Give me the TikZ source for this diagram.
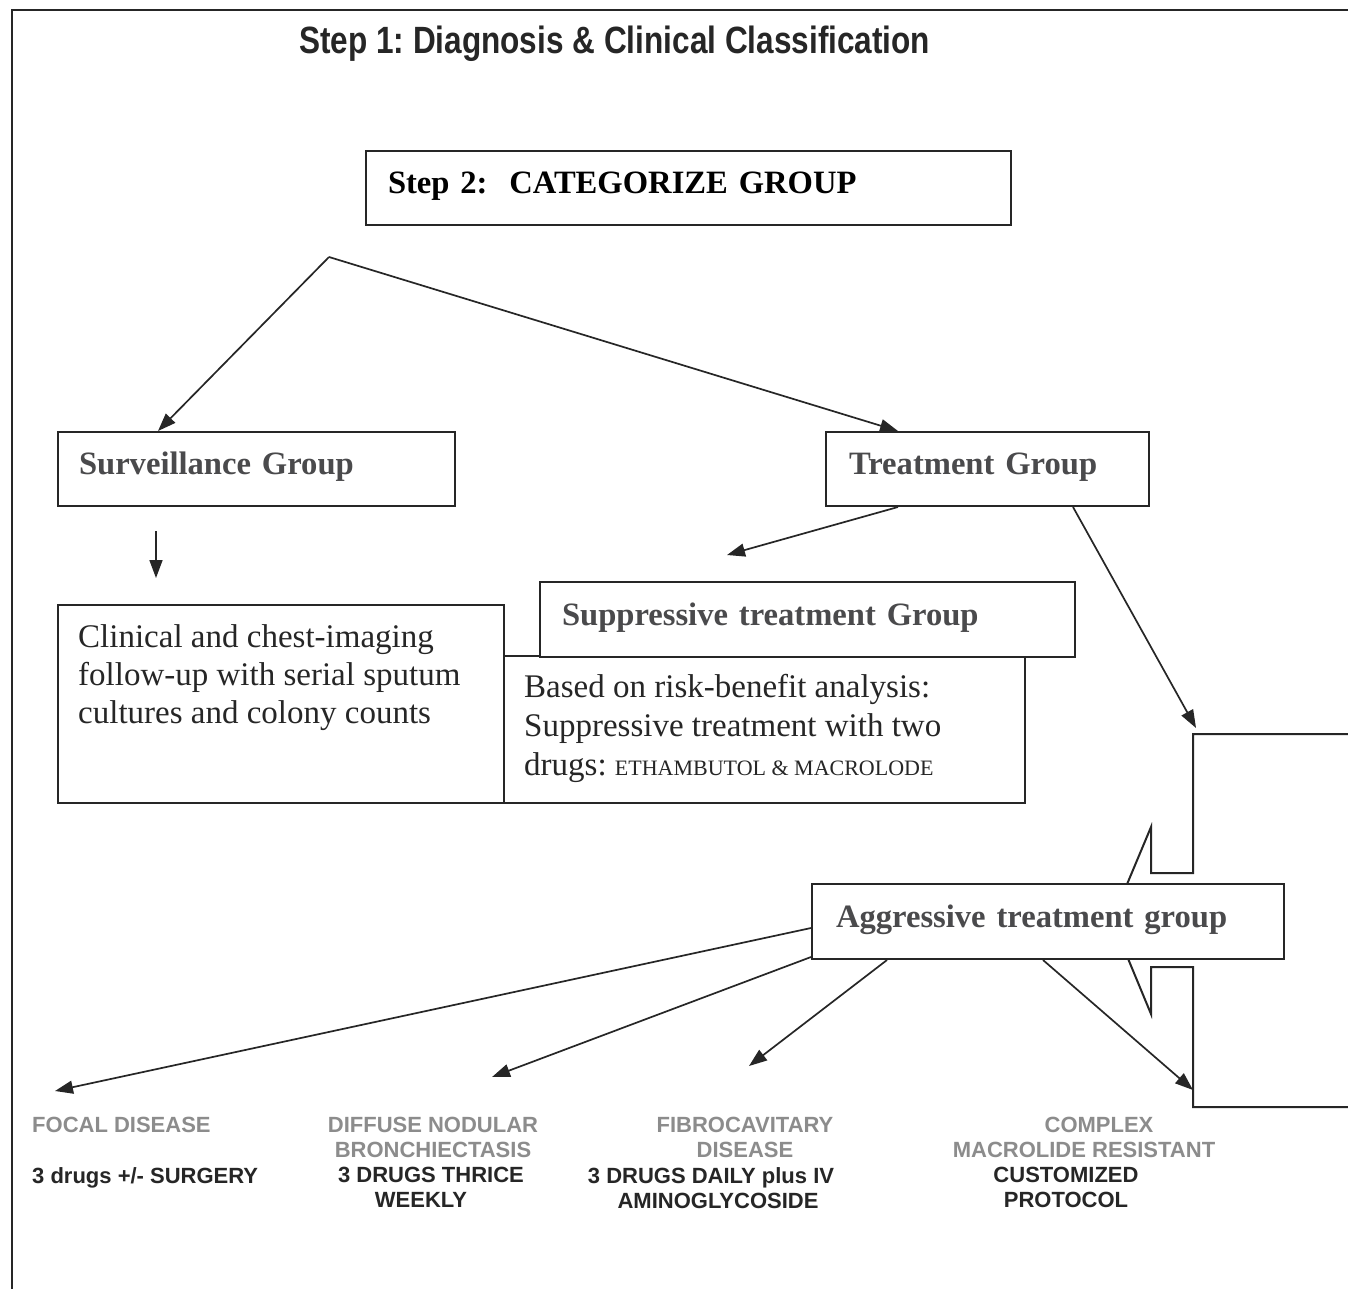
\documentclass[tikz,border=0pt]{standalone}
\usepackage{fontspec}
\setmainfont{Liberation Serif}
\newfontfamily\arialf{Liberation Sans}
\usepackage{graphicx}
\usetikzlibrary{arrows.meta,calc}
\frenchspacing
\definecolor{ink}{HTML}{262626}
\definecolor{boxtxt}{HTML}{4A4A4C}
\definecolor{graytxt}{HTML}{8C8C8C}
\tikzset{
  boxn/.style={draw=ink, line width=2pt, fill=white, anchor=north west, inner ysep=0pt, align=left},
  head/.style={font=\fontsize{32.6}{38}\selectfont\bfseries, text=boxtxt, text height=22pt, text depth=11pt},
  arr/.style={draw=ink, line width=1.7pt, -{Triangle[length=18pt,width=13pt]}},
  body/.style={text=ink, inner sep=0pt, align=left},
  lab/.style={font=\arialf\bfseries\fontsize{22}{25}\selectfont, inner sep=0pt, align=center},
}
\begin{document}
\begin{tikzpicture}[x=1pt,y=-1pt]
\useasboundingbox (0,0) rectangle (1348,1288);
\clip (0,0) rectangle (1348,1288);
\fill[white] (0,0) rectangle (1348,1288);
% outer frame (only top and left visible)
\draw[ink, line width=2.5pt] (12,1300) -- (12,10) -- (1360,10);

% title
\node[anchor=base west, inner sep=0pt, text=ink] (title) at (299,53)
  {\scalebox{0.83}[1]{\arialf\bfseries\fontsize{38}{40}\selectfont Step 1: Diagnosis \& Clinical Classification}};

% step 2
\node[boxn, head, text=black, inner xsep=22pt, text width=601pt, minimum height=74pt] (step2) at (365,150)
  {Step 2:\ \ CATEGORIZE GROUP};

% groups
\node[boxn, head, inner xsep=21pt, text width=355pt, minimum height=74pt] (surv) at (57,431) {Surveillance Group};
\node[boxn, head, inner xsep=23pt, text width=277pt, minimum height=74pt] (treat) at (825,431) {Treatment Group};

% clinical follow-up box
\node[boxn, minimum width=446pt, minimum height=198pt, inner sep=0pt] (clin) at (57,604) {};
\node[body, anchor=north west, font=\fontsize{33}{38}\selectfont] (clintext) at (78,624)
  {Clinical and chest-imaging\\follow-up with serial sputum\\cultures and colony counts};

% suppressive description box
\node[boxn, minimum width=521pt, minimum height=147pt, inner sep=0pt] (desc) at (503,655) {};
\node[body, anchor=north west, font=\fontsize{33}{39}\selectfont] (desctext) at (524,674)
  {Based on risk-benefit analysis:\\Suppressive treatment with two\\drugs: {\fontsize{22}{39}\selectfont ETHAMBUTOL \& MACROLODE}};

% suppressive group
\node[boxn, head, inner xsep=22pt, text width=491pt, minimum height=75pt] (supp) at (539,581) {Suppressive treatment Group};

% block arrow pointing left
\draw[ink, line width=2pt, fill=white, line join=miter]
  (1360,734) -- (1193,734) -- (1193,873) -- (1151,873) -- (1151,827) -- (1112,920)
  -- (1151,1014) -- (1151,967) -- (1193,967) -- (1193,1107) -- (1360,1107);

% aggressive group
\node[boxn, head, inner xsep=24pt, text width=424pt, minimum height=75pt] (aggr) at (811,883) {Aggressive treatment group};

% free coordinates
\coordinate (apex) at (329,257);
\coordinate (suppin) at (727,555);
\coordinate (blocktop) at (1196,728);
\coordinate (focalend) at (55,1091);
\coordinate (diffend) at (492,1077);
\coordinate (fibroend) at (749,1066);
\coordinate (complexend) at (1193,1090);

% connectors
\draw[arr] (apex) -- ($(surv.north west)+(101,0)$);
\draw[arr] (apex) -- ($(treat.north west)+(73,0)$);
\draw[arr] ($(surv.south west)+(99,24)$) -- ($(clin.north west)+(99,-26)$);
\draw[arr] ($(treat.south west)+(73,0)$) -- (suppin);
\draw[arr] ($(treat.south west)+(248,0)$) -- (blocktop);
\draw[arr] ($(aggr.north west)+(0,45)$) -- (focalend);
\draw[arr] ($(aggr.south west)+(0,-3)$) -- (diffend);
\draw[arr] ($(aggr.south west)+(76,0)$) -- (fibroend);
\draw[arr] ($(aggr.south west)+(232,0)$) -- (complexend);

% bottom labels
\node[lab, anchor=north west, text=graytxt] (focal) at (32,1117) {FOCAL DISEASE};
\node[lab, anchor=north west, text=ink] (focaltx) at (32,1167) {3 drugs +/- SURGERY};
\node[lab, anchor=north, text=graytxt] (diffuse) at (433,1117) {DIFFUSE NODULAR\\BRONCHIECTASIS};
\node[lab, anchor=north, text=ink] (diffusetx) at (431,1167) {3 DRUGS THRICE\\WEEKLY\hspace*{20pt}};
\node[lab, anchor=north, text=graytxt] (fibro) at (745,1117) {FIBROCAVITARY\\DISEASE};
\node[lab, anchor=north, text=ink] (fibrotx) at (711,1167) {3 DRUGS DAILY plus IV\\\hspace*{14pt}AMINOGLYCOSIDE};
\node[lab, anchor=north, text=graytxt] (complex) at (1084,1117) {\hspace*{30pt}COMPLEX\\MACROLIDE RESISTANT};
\node[lab, anchor=north, text=ink] (complextx) at (1066,1167) {CUSTOMIZED\\PROTOCOL};
\end{tikzpicture}
\end{document}
